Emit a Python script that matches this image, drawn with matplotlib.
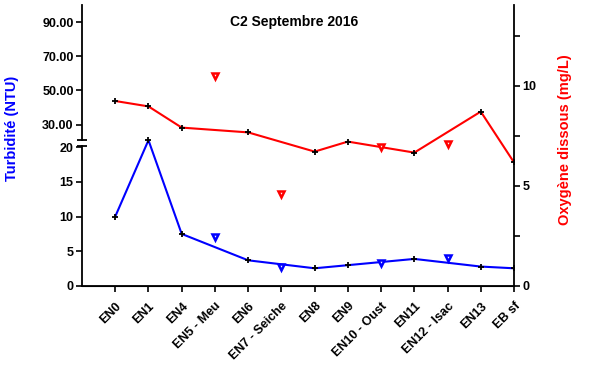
import matplotlib
matplotlib.use("Agg")
import matplotlib.pyplot as plt
import numpy as np
from matplotlib.ticker import FixedLocator, FuncFormatter, MultipleLocator

plt.rcParams['font.family'] = ['Liberation Sans', 'DejaVu Sans']
plt.rcParams['font.weight'] = 'bold'

stations = ["EN0", "EN1", "EN4", "EN5 - Meu", "EN6", "EN7 - Seiche", "EN8", "EN9",
            "EN10 - Oust", "EN11", "EN12 - Isac", "EN13", "EB sf"]

# stations on the main river (joined by the lines)
main_idx = [0, 1, 2, 4, 6, 7, 9, 11, 12]
turb_main = [10.0, 21.0, 7.5, 3.7, 2.55, 3.0, 3.9, 2.8, 2.55]
oxy_main = [9.25, 8.98, 7.92, 7.68, 6.72, 7.22, 6.67, 8.72, 6.18]

# tributaries (single markers)
trib_idx = [3, 5, 8, 10]
turb_trib = [7.0, 2.7, 3.3, 4.0]
oxy_trib = [10.5, 4.6, 6.97, 7.08]

left_ticks = [0, 5, 10, 15, 20, 30, 50, 70, 90]

# broken turbidity axis: linear up to brk, compressed above
brk = 21.05
k = 0.246

def fwd(y):
    y = np.asarray(y, dtype=float)
    return np.where(y <= brk, y, brk + (y - brk) * k)

def inv(f):
    f = np.asarray(f, dtype=float)
    return np.where(f <= brk, f, brk + (f - brk) / k)

fig = plt.figure(figsize=(5.9, 3.83), dpi=100)
ax = fig.add_axes([82 / 590, 1 - 286 / 383, (514 - 82) / 590, 281 / 383])
ax2 = ax.twinx()

blue = '#0000ff'
red = '#ff0000'

ax.set_yscale('function', functions=(fwd, inv))
ax.set_ylim(0, 100)
ax.set_xlim(-1, 12)

ax.plot(main_idx, turb_main, color=blue, lw=1.5, marker='+', mec='black',
        ms=5, mew=1.3, zorder=3)
ax.plot(trib_idx, turb_trib, ls='none', marker='v', mfc='white', mec=blue,
        ms=5, mew=1.8, zorder=3)

ax2.set_ylim(0, 14.05)
ax2.plot(main_idx, oxy_main, color=red, lw=1.5, marker='+', mec='black',
         ms=5, mew=1.3, zorder=3)
ax2.plot(trib_idx, oxy_trib, ls='none', marker='v', mfc='white', mec=red,
         ms=5, mew=1.8, zorder=3)

# left axis ticks
ax.yaxis.set_major_locator(FixedLocator(left_ticks))
ax.yaxis.set_minor_locator(FixedLocator([]))
ax.yaxis.set_major_formatter(FuncFormatter(
    lambda v, p: f"{v:.2f}" if v >= 30 else f"{v:.0f}"))
ax.tick_params(axis='y', direction='out', length=4, width=1.2, labelsize=9, pad=2)

ax.set_xticks(range(len(stations)))
ax.set_xticklabels(stations, rotation=45, ha='right', rotation_mode='anchor',
                   fontsize=9)
ax.tick_params(axis='x', direction='out', length=4, width=1.2, pad=6)

ax2.yaxis.set_major_locator(MultipleLocator(5))
ax2.yaxis.set_minor_locator(MultipleLocator(2.5))
ax2.tick_params(axis='y', which='major', direction='out', length=4, width=1.2,
                labelsize=9, pad=2)
ax2.tick_params(axis='y', which='minor', direction='out', length=4, width=1.2)

for a in (ax, ax2):
    a.spines['top'].set_visible(False)
ax.spines['right'].set_visible(False)
ax2.spines['left'].set_visible(False)
ax.spines['left'].set_visible(False)
ax2.spines['right'].set_linewidth(1.3)
ax.spines['bottom'].set_linewidth(1.3)

# left spine drawn in two pieces with a break
yt = ax.get_yaxis_transform()
ax.plot([0, 0], [0, 20.15], color='black', lw=1.3, transform=yt, clip_on=False)
ax.plot([0, 0], [21.0, 100], color='black', lw=1.3, transform=yt, clip_on=False)
ax.plot([0, 0], [20.15, 21.0], ls='none', marker='_', ms=7, mew=1.3,
        color='black', transform=yt, clip_on=False)

fig.text(294 / 590, 1 - 22 / 383, "C2 Septembre 2016", fontsize=10,
         fontweight='bold', ha='center', va='center')
fig.text(12 / 590, 1 - 128 / 383, "Turbidité (NTU)", color=blue, fontsize=10.5,
         fontweight='bold', rotation=90, ha='center', va='center')
fig.text(565 / 590, 1 - 140 / 383, "Oxygène dissous (mg/L)", color=red,
         fontsize=10.5, fontweight='bold', rotation=90, ha='center', va='center')

fig.savefig("out.png", dpi=100)
